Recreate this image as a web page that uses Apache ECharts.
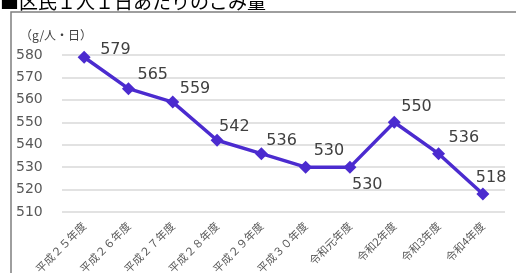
<!DOCTYPE html>
<html><head><meta charset="utf-8">
<script src="https://cdn.jsdelivr.net/npm/echarts@6/dist/echarts.min.js"></script>
<style>html,body{margin:0;padding:0;background:#fff}#c{width:516px;height:273px}</style>
</head><body><div id="c"></div>
<script>
const categories = ['平成２５年度','平成２６年度','平成２７年度','平成２８年度','平成２９年度','平成３０年度','令和元年度','令和2年度','令和3年度','令和4年度'];
const values = [579, 565, 559, 542, 536, 530, 530, 550, 536, 518];
const yTicks = [510, 520, 530, 540, 550, 560, 570, 580];
const unitLabel = '（g/人・日）';
const title = '■区民１人１日あたりのごみ量';

// label placement (layout only): offset of label's left-middle from point centre
const labelShift = [[16, -7], [9, -14], [7, -13.5], [2, -13], [5, -12.5], [8, -16], [2, 17.5], [7, -15], [10, -15.5], [-7, -16]];

const chart = echarts.init(document.getElementById('c'), null, {renderer: 'canvas'});
chart.setOption({
  animation: false,
  grid: {left: 62, right: 11, top: 55, bottom: 61, outerBoundsMode: 'none', containLabel: false},
  graphic: [
    {type: 'text', left: 0, top: -8, style: {text: title, font: '19px "Noto Sans CJK JP"', fill: '#000'}},
    {type: 'rect', shape: {x: 11, y: 12, width: 520, height: 280}, style: {fill: 'none', stroke: '#7f7f7f', lineWidth: 1.5}},
    {type: 'text', left: 20, top: 29, style: {text: unitLabel, font: '12px "Noto Sans CJK JP"', fill: '#404040'}}
  ],
  xAxis: {
    type: 'category', data: categories, boundaryGap: true,
    axisLine: {show: false}, axisTick: {show: false},
    axisLabel: {rotate: 45, fontSize: 11, color: '#595959', margin: 12, fontFamily: '"Noto Sans CJK JP"', interval: 0}
  },
  yAxis: {
    type: 'value', min: yTicks[0], max: yTicks[yTicks.length - 1], interval: 10,
    axisLine: {show: false}, axisTick: {show: false},
    splitLine: {lineStyle: {color: '#d9d9d9', width: 1.5}},
    axisLabel: {color: '#595959', fontSize: 14, fontFamily: '"DejaVu Sans"', align: 'left', margin: 46}
  },
  series: [{
    type: 'line', data: values,
    symbol: 'diamond', symbolSize: 13,
    lineStyle: {color: '#4b2bcf', width: 3.5},
    itemStyle: {color: '#4b2bcf'},
    label: {show: true, position: 'right', color: '#404040', fontSize: 16, fontFamily: '"DejaVu Sans"'},
    labelLayout: function (p) {
      const s = labelShift[p.dataIndex];
      const cx = p.rect.x + p.rect.width / 2;
      const cy = p.rect.y + p.rect.height / 2;
      return {x: cx + s[0], y: cy + s[1], align: 'left', verticalAlign: 'middle'};
    }
  }]
});
</script></body></html>
